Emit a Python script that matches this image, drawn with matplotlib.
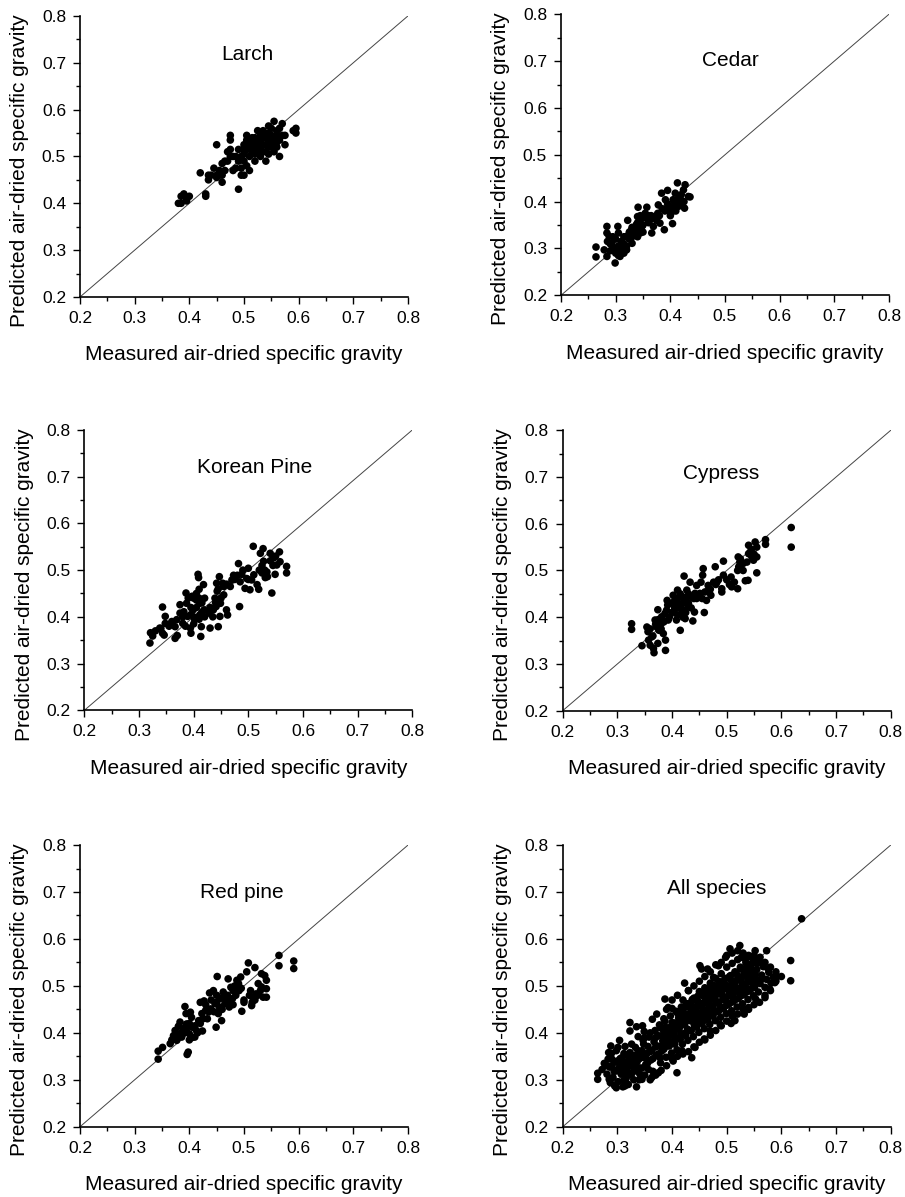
import numpy as np
import matplotlib
matplotlib.use('Agg')
import matplotlib.pyplot as plt
from matplotlib.ticker import MultipleLocator

plt.rcParams['font.family'] = ['Liberation Sans', 'DejaVu Sans']

# measured vs predicted air-dried specific gravity
larch = [
    (0.38, 0.40), (0.385, 0.40), (0.39, 0.42), (0.395, 0.41), (0.40, 0.415), (0.385, 0.415), (0.395, 0.405),
    (0.43, 0.415), (0.43, 0.42), (0.42, 0.465), (0.435, 0.45), (0.435, 0.46), (0.445, 0.475), (0.45, 0.525),
    (0.45, 0.46), (0.455, 0.47), (0.46, 0.445), (0.46, 0.46), (0.46, 0.485), (0.465, 0.49), (0.47, 0.51),
    (0.475, 0.515), (0.475, 0.545), (0.475, 0.535), (0.48, 0.50), (0.48, 0.47), (0.485, 0.475), (0.49, 0.43),
    (0.49, 0.49), (0.49, 0.515), (0.495, 0.46), (0.495, 0.475), (0.50, 0.46), (0.50, 0.49), (0.50, 0.505),
    (0.50, 0.525), (0.505, 0.545), (0.505, 0.535), (0.51, 0.50), (0.51, 0.52), (0.51, 0.47), (0.515, 0.51),
    (0.515, 0.53), (0.52, 0.54), (0.52, 0.515), (0.52, 0.49), (0.525, 0.555), (0.525, 0.525), (0.53, 0.50),
    (0.53, 0.52), (0.53, 0.535), (0.535, 0.545), (0.535, 0.51), (0.54, 0.525), (0.54, 0.49), (0.545, 0.535),
    (0.545, 0.565), (0.55, 0.52), (0.55, 0.545), (0.555, 0.575), (0.555, 0.51), (0.56, 0.555), (0.56, 0.53),
    (0.565, 0.56), (0.565, 0.50), (0.57, 0.57), (0.57, 0.545), (0.575, 0.525), (0.575, 0.545), (0.59, 0.555),
    (0.595, 0.55), (0.595, 0.56), (0.505, 0.515), (0.51, 0.53), (0.515, 0.52), (0.52, 0.505), (0.525, 0.53),
    (0.525, 0.51), (0.53, 0.545), (0.535, 0.525), (0.54, 0.54), (0.545, 0.52), (0.55, 0.53), (0.555, 0.54),
    (0.56, 0.545), (0.545, 0.55), (0.535, 0.555), (0.52, 0.53), (0.515, 0.54), (0.50, 0.515), (0.495, 0.50),
    (0.485, 0.50), (0.475, 0.50), (0.47, 0.49), (0.465, 0.47), (0.455, 0.46), (0.45, 0.455), (0.44, 0.46),
    (0.505, 0.48), (0.52, 0.52), (0.53, 0.53), (0.54, 0.51), (0.55, 0.56), (0.545, 0.505), (0.56, 0.52),
    (0.565, 0.535),
]

cedar = [
    (0.264, 0.303), (0.264, 0.282), (0.284, 0.347), (0.284, 0.333), (0.279, 0.297), (0.284, 0.283),
    (0.288, 0.326), (0.293, 0.311), (0.299, 0.269), (0.304, 0.347), (0.305, 0.333), (0.308, 0.283),
    (0.311, 0.311), (0.314, 0.297), (0.320, 0.326), (0.322, 0.360), (0.320, 0.297), (0.329, 0.340),
    (0.330, 0.311), (0.338, 0.351), (0.340, 0.368), (0.341, 0.388), (0.345, 0.333), (0.348, 0.347),
    (0.354, 0.375), (0.357, 0.388), (0.363, 0.361), (0.366, 0.333), (0.369, 0.347), (0.372, 0.368),
    (0.377, 0.375), (0.378, 0.393), (0.381, 0.354), (0.384, 0.418), (0.389, 0.340), (0.391, 0.404),
    (0.395, 0.424), (0.396, 0.390), (0.401, 0.375), (0.404, 0.353), (0.405, 0.404), (0.409, 0.418),
    (0.413, 0.440), (0.415, 0.390), (0.418, 0.411), (0.421, 0.400), (0.424, 0.425), (0.426, 0.386),
    (0.427, 0.436), (0.433, 0.411), (0.436, 0.410),
    (0.29, 0.31), (0.295, 0.30), (0.30, 0.32), (0.30, 0.29), (0.305, 0.305), (0.31, 0.295), (0.31, 0.315),
    (0.315, 0.31), (0.315, 0.29), (0.32, 0.305), (0.325, 0.32), (0.325, 0.335), (0.33, 0.325), (0.335, 0.34),
    (0.335, 0.33), (0.34, 0.355), (0.345, 0.345), (0.345, 0.36), (0.35, 0.35), (0.355, 0.365), (0.36, 0.37),
    (0.36, 0.355), (0.365, 0.37), (0.37, 0.365), (0.375, 0.36), (0.38, 0.37), (0.385, 0.385), (0.39, 0.38),
    (0.395, 0.395), (0.40, 0.385), (0.405, 0.39), (0.41, 0.40), (0.415, 0.405), (0.42, 0.395), (0.42, 0.415),
    (0.425, 0.40), (0.41, 0.38), (0.40, 0.37), (0.30, 0.30), (0.29, 0.295), (0.285, 0.315), (0.295, 0.325),
    (0.305, 0.285), (0.315, 0.325), (0.33, 0.345), (0.34, 0.325), (0.35, 0.335), (0.345, 0.37),
]

korean_pine = [
    (0.320, 0.344), (0.321, 0.366), (0.325, 0.359), (0.343, 0.421), (0.338, 0.376), (0.343, 0.365),
    (0.348, 0.386), (0.348, 0.401), (0.346, 0.361), (0.366, 0.379), (0.366, 0.354), (0.369, 0.394),
    (0.375, 0.426), (0.375, 0.408), (0.380, 0.386), (0.382, 0.411), (0.386, 0.451), (0.387, 0.429),
    (0.389, 0.401), (0.394, 0.376), (0.395, 0.365), (0.397, 0.444), (0.399, 0.415), (0.402, 0.394),
    (0.405, 0.436), (0.408, 0.491), (0.409, 0.484), (0.410, 0.459), (0.411, 0.429), (0.411, 0.404),
    (0.413, 0.358), (0.414, 0.379), (0.418, 0.469), (0.419, 0.415), (0.428, 0.408), (0.430, 0.376),
    (0.436, 0.415), (0.439, 0.440), (0.441, 0.422), (0.442, 0.472), (0.443, 0.455), (0.445, 0.379),
    (0.447, 0.486), (0.448, 0.401), (0.449, 0.429), (0.453, 0.472), (0.455, 0.447), (0.460, 0.415),
    (0.462, 0.404), (0.467, 0.465), (0.470, 0.479), (0.473, 0.489), (0.480, 0.489), (0.482, 0.514),
    (0.484, 0.422), (0.488, 0.491), (0.494, 0.461), (0.497, 0.482), (0.500, 0.504), (0.503, 0.458),
    (0.506, 0.479), (0.509, 0.551), (0.516, 0.469), (0.519, 0.459), (0.522, 0.536), (0.525, 0.494),
    (0.527, 0.546), (0.528, 0.519), (0.531, 0.484), (0.534, 0.496), (0.535, 0.486), (0.540, 0.536),
    (0.543, 0.451), (0.546, 0.526), (0.549, 0.491), (0.552, 0.511), (0.557, 0.539), (0.558, 0.518),
    (0.570, 0.508), (0.570, 0.494),
    (0.395, 0.42), (0.40, 0.44), (0.40, 0.40), (0.405, 0.42), (0.41, 0.44), (0.415, 0.43), (0.415, 0.41),
    (0.42, 0.44), (0.405, 0.45), (0.395, 0.405), (0.40, 0.385), (0.41, 0.395), (0.42, 0.40), (0.43, 0.42),
    (0.435, 0.40), (0.44, 0.43), (0.445, 0.46), (0.45, 0.44), (0.455, 0.465), (0.46, 0.47), (0.475, 0.48),
    (0.485, 0.475), (0.49, 0.50), (0.50, 0.48), (0.51, 0.49), (0.52, 0.50), (0.525, 0.51), (0.53, 0.50),
    (0.54, 0.52), (0.545, 0.51), (0.55, 0.53), (0.37, 0.36), (0.385, 0.38), (0.38, 0.40), (0.39, 0.44),
    (0.33, 0.37), (0.34, 0.375), (0.355, 0.38), (0.36, 0.39),
]

cypress = [
    (0.326, 0.386), (0.326, 0.374), (0.345, 0.339), (0.354, 0.379), (0.356, 0.369), (0.357, 0.351),
    (0.360, 0.340), (0.363, 0.358), (0.366, 0.333), (0.367, 0.324), (0.369, 0.394), (0.372, 0.379),
    (0.374, 0.344), (0.374, 0.416), (0.376, 0.372), (0.380, 0.386), (0.381, 0.401), (0.384, 0.365),
    (0.387, 0.408), (0.388, 0.329), (0.388, 0.351), (0.391, 0.436), (0.392, 0.426), (0.393, 0.394),
    (0.402, 0.447), (0.404, 0.415), (0.405, 0.436), (0.408, 0.394), (0.410, 0.458), (0.413, 0.429),
    (0.415, 0.372), (0.418, 0.408), (0.420, 0.443), (0.422, 0.488), (0.424, 0.397), (0.427, 0.458),
    (0.430, 0.422), (0.433, 0.475), (0.436, 0.443), (0.438, 0.392), (0.441, 0.411), (0.442, 0.451),
    (0.445, 0.468), (0.451, 0.451), (0.453, 0.475), (0.456, 0.490), (0.457, 0.504), (0.459, 0.410),
    (0.460, 0.454), (0.463, 0.436), (0.466, 0.468), (0.471, 0.447), (0.476, 0.475), (0.479, 0.508),
    (0.482, 0.475), (0.491, 0.454), (0.491, 0.461), (0.494, 0.490), (0.494, 0.520), (0.508, 0.486),
    (0.509, 0.465), (0.514, 0.475), (0.520, 0.461), (0.521, 0.529), (0.522, 0.508), (0.524, 0.518),
    (0.530, 0.500), (0.534, 0.478), (0.537, 0.518), (0.539, 0.479), (0.540, 0.554), (0.540, 0.536),
    (0.543, 0.539), (0.546, 0.529), (0.549, 0.522), (0.552, 0.561), (0.555, 0.550), (0.555, 0.529),
    (0.555, 0.495), (0.571, 0.566), (0.571, 0.556), (0.618, 0.592), (0.618, 0.550),
    (0.405, 0.42), (0.41, 0.44), (0.41, 0.43), (0.415, 0.42), (0.415, 0.45), (0.42, 0.43), (0.42, 0.415),
    (0.425, 0.44), (0.43, 0.43), (0.43, 0.45), (0.435, 0.42), (0.44, 0.44), (0.445, 0.44), (0.41, 0.405),
    (0.42, 0.40), (0.425, 0.41), (0.40, 0.43), (0.40, 0.41), (0.395, 0.40), (0.385, 0.39), (0.38, 0.375),
    (0.37, 0.385), (0.365, 0.36), (0.36, 0.375), (0.375, 0.395), (0.39, 0.415), (0.45, 0.445), (0.455, 0.44),
    (0.465, 0.455), (0.47, 0.46), (0.48, 0.47), (0.485, 0.48), (0.52, 0.50), (0.525, 0.525), (0.53, 0.515),
    (0.545, 0.545), (0.55, 0.535), (0.50, 0.48), (0.505, 0.47),
]

red_pine = [
    (0.343, 0.361), (0.343, 0.344), (0.351, 0.369), (0.365, 0.377), (0.368, 0.385), (0.371, 0.394),
    (0.374, 0.405), (0.377, 0.384), (0.380, 0.414), (0.383, 0.423), (0.386, 0.391), (0.389, 0.409),
    (0.392, 0.456), (0.394, 0.441), (0.395, 0.419), (0.396, 0.354), (0.398, 0.359), (0.400, 0.398),
    (0.402, 0.444), (0.404, 0.433), (0.406, 0.412), (0.410, 0.391), (0.413, 0.405), (0.417, 0.426),
    (0.420, 0.465), (0.423, 0.441), (0.424, 0.404), (0.427, 0.468), (0.430, 0.448), (0.433, 0.430),
    (0.437, 0.485), (0.439, 0.451), (0.444, 0.490), (0.447, 0.462), (0.449, 0.412), (0.451, 0.520),
    (0.453, 0.441), (0.456, 0.473), (0.459, 0.426), (0.462, 0.487), (0.465, 0.462), (0.468, 0.476),
    (0.471, 0.515), (0.473, 0.455), (0.476, 0.497), (0.479, 0.473), (0.483, 0.500), (0.487, 0.512),
    (0.491, 0.490), (0.494, 0.519), (0.496, 0.446), (0.500, 0.465), (0.505, 0.530), (0.508, 0.549),
    (0.512, 0.490), (0.514, 0.458), (0.517, 0.473), (0.520, 0.539), (0.522, 0.483), (0.526, 0.505),
    (0.532, 0.526), (0.532, 0.498), (0.535, 0.476), (0.538, 0.522), (0.541, 0.512), (0.541, 0.494),
    (0.541, 0.476), (0.564, 0.565), (0.564, 0.543), (0.591, 0.553), (0.591, 0.537),
    (0.39, 0.40), (0.395, 0.41), (0.40, 0.42), (0.405, 0.39), (0.41, 0.415), (0.415, 0.40), (0.42, 0.42),
    (0.425, 0.43), (0.43, 0.46), (0.435, 0.445), (0.44, 0.47), (0.445, 0.445), (0.45, 0.465), (0.455, 0.455),
    (0.46, 0.475), (0.465, 0.475), (0.47, 0.48), (0.475, 0.47), (0.48, 0.49), (0.485, 0.48), (0.49, 0.505),
    (0.495, 0.495), (0.46, 0.45), (0.45, 0.48), (0.47, 0.465), (0.48, 0.46), (0.515, 0.465), (0.52, 0.47),
    (0.51, 0.48), (0.50, 0.47), (0.53, 0.49), (0.525, 0.48), (0.38, 0.395), (0.385, 0.40), (0.40, 0.385),
]

all_species = [
    # edge of the cloud
    (0.264, 0.314), (0.264, 0.301), (0.280, 0.330), (0.284, 0.358), (0.285, 0.301), (0.287, 0.294),
    (0.288, 0.372), (0.290, 0.344), (0.295, 0.287), (0.298, 0.283), (0.298, 0.319), (0.301, 0.369),
    (0.304, 0.384), (0.308, 0.347), (0.311, 0.298), (0.314, 0.287), (0.315, 0.333), (0.320, 0.315),
    (0.323, 0.422), (0.323, 0.404), (0.326, 0.376), (0.332, 0.326), (0.335, 0.285), (0.335, 0.413),
    (0.338, 0.362), (0.341, 0.312), (0.345, 0.301), (0.346, 0.415), (0.348, 0.376), (0.351, 0.347),
    (0.357, 0.322), (0.363, 0.305), (0.364, 0.429), (0.372, 0.440), (0.375, 0.315), (0.378, 0.347),
    (0.387, 0.472), (0.393, 0.454), (0.402, 0.340), (0.409, 0.315), (0.418, 0.362), (0.423, 0.506),
    (0.430, 0.490), (0.436, 0.347), (0.442, 0.369), (0.451, 0.543), (0.454, 0.536), (0.459, 0.387),
    (0.465, 0.536), (0.470, 0.404), (0.476, 0.518), (0.485, 0.543), (0.488, 0.418), (0.498, 0.561),
    (0.506, 0.579), (0.508, 0.420), (0.515, 0.426), (0.524, 0.586), (0.527, 0.561), (0.532, 0.440),
    (0.540, 0.454), (0.552, 0.575), (0.553, 0.472), (0.561, 0.561), (0.570, 0.475), (0.573, 0.575),
    (0.576, 0.536), (0.579, 0.493), (0.588, 0.507), (0.591, 0.521), (0.617, 0.554), (0.617, 0.511),
    (0.637, 0.643),
    (0.30, 0.34), (0.31, 0.32), (0.32, 0.35), (0.33, 0.33), (0.34, 0.36), (0.35, 0.39), (0.36, 0.40),
    (0.37, 0.39), (0.38, 0.41), (0.385, 0.43), (0.39, 0.45), (0.40, 0.47), (0.41, 0.48), (0.42, 0.47),
    (0.43, 0.49), (0.44, 0.50), (0.45, 0.51), (0.46, 0.52), (0.47, 0.53), (0.48, 0.545), (0.49, 0.55),
    (0.50, 0.565), (0.51, 0.57), (0.52, 0.575), (0.53, 0.57), (0.54, 0.565), (0.55, 0.565), (0.56, 0.55),
    (0.57, 0.55), (0.58, 0.54), (0.59, 0.53), (0.60, 0.52), (0.59, 0.51), (0.58, 0.49), (0.57, 0.48),
    (0.56, 0.465), (0.55, 0.46), (0.54, 0.45), (0.53, 0.45), (0.52, 0.44), (0.51, 0.435), (0.50, 0.425),
    (0.49, 0.415), (0.48, 0.405), (0.47, 0.395), (0.46, 0.385), (0.45, 0.38), (0.44, 0.37), (0.43, 0.36),
    (0.42, 0.355), (0.41, 0.35), (0.40, 0.345), (0.39, 0.33), (0.38, 0.32), (0.37, 0.31), (0.36, 0.30),
    (0.35, 0.31), (0.34, 0.30), (0.33, 0.30), (0.32, 0.29), (0.31, 0.285),
    # body of the cloud
    (0.272, 0.322), (0.276, 0.335), (0.281, 0.312), (0.283, 0.344), (0.286, 0.327), (0.289, 0.356),
    (0.292, 0.305), (0.294, 0.318), (0.296, 0.338), (0.298, 0.362), (0.301, 0.296), (0.303, 0.326),
    (0.305, 0.345), (0.307, 0.312), (0.309, 0.334), (0.312, 0.356), (0.314, 0.371), (0.316, 0.303),
    (0.318, 0.325), (0.321, 0.342), (0.323, 0.358), (0.326, 0.331), (0.328, 0.316), (0.331, 0.352),
    (0.333, 0.369), (0.336, 0.338), (0.338, 0.392), (0.341, 0.325), (0.343, 0.347), (0.345, 0.362),
    (0.347, 0.384), (0.349, 0.403), (0.352, 0.333), (0.354, 0.356), (0.356, 0.371), (0.358, 0.391),
    (0.361, 0.342), (0.363, 0.362), (0.365, 0.318), (0.367, 0.381), (0.369, 0.405), (0.371, 0.352),
    (0.373, 0.372), (0.375, 0.394), (0.377, 0.417), (0.379, 0.336), (0.381, 0.361), (0.383, 0.383),
    (0.385, 0.401), (0.387, 0.425), (0.389, 0.348), (0.391, 0.372), (0.393, 0.392), (0.395, 0.411),
    (0.397, 0.436), (0.399, 0.357), (0.401, 0.381), (0.403, 0.402), (0.405, 0.421), (0.407, 0.446),
    (0.409, 0.364), (0.411, 0.389), (0.413, 0.409), (0.415, 0.431), (0.417, 0.455), (0.419, 0.376),
    (0.421, 0.398), (0.423, 0.418), (0.425, 0.439), (0.427, 0.462), (0.429, 0.384), (0.431, 0.405),
    (0.433, 0.426), (0.435, 0.447), (0.437, 0.471), (0.439, 0.392), (0.441, 0.414), (0.443, 0.434),
    (0.445, 0.455), (0.447, 0.478), (0.449, 0.401), (0.451, 0.421), (0.453, 0.442), (0.455, 0.463),
    (0.457, 0.486), (0.459, 0.409), (0.461, 0.428), (0.463, 0.449), (0.465, 0.471), (0.467, 0.494),
    (0.469, 0.418), (0.471, 0.437), (0.473, 0.457), (0.475, 0.478), (0.477, 0.501), (0.479, 0.426),
    (0.481, 0.445), (0.483, 0.465), (0.485, 0.486), (0.487, 0.509), (0.489, 0.433), (0.491, 0.452),
    (0.493, 0.472), (0.495, 0.493), (0.497, 0.516), (0.499, 0.441), (0.501, 0.459), (0.503, 0.479),
    (0.505, 0.499), (0.507, 0.522), (0.509, 0.447), (0.511, 0.466), (0.513, 0.486), (0.515, 0.506),
    (0.517, 0.529), (0.519, 0.455), (0.521, 0.473), (0.523, 0.493), (0.525, 0.513), (0.527, 0.536),
    (0.529, 0.462), (0.531, 0.481), (0.533, 0.501), (0.535, 0.521), (0.537, 0.543), (0.539, 0.471),
    (0.541, 0.489), (0.543, 0.509), (0.545, 0.528), (0.547, 0.549), (0.549, 0.479), (0.551, 0.497),
    (0.553, 0.516), (0.555, 0.535), (0.558, 0.487), (0.561, 0.505), (0.564, 0.523), (0.567, 0.541),
    (0.570, 0.497), (0.573, 0.514), (0.577, 0.529), (0.581, 0.506), (0.585, 0.519),
    # dense core
    (0.380, 0.372), (0.384, 0.392), (0.388, 0.412), (0.392, 0.382), (0.396, 0.402), (0.400, 0.422),
    (0.404, 0.392), (0.408, 0.412), (0.412, 0.432), (0.416, 0.398), (0.420, 0.418), (0.424, 0.440),
    (0.428, 0.408), (0.432, 0.428), (0.436, 0.458), (0.440, 0.420), (0.444, 0.444), (0.448, 0.466),
    (0.452, 0.430), (0.456, 0.452), (0.460, 0.476), (0.464, 0.438), (0.468, 0.460), (0.472, 0.484),
    (0.476, 0.446), (0.480, 0.468), (0.484, 0.494), (0.488, 0.456), (0.492, 0.480), (0.496, 0.504),
    (0.500, 0.466), (0.504, 0.490), (0.508, 0.512), (0.512, 0.476), (0.516, 0.498), (0.520, 0.522),
    (0.524, 0.484), (0.528, 0.506), (0.532, 0.530), (0.536, 0.494), (0.540, 0.516), (0.544, 0.538),
    (0.548, 0.504), (0.552, 0.526), (0.556, 0.548), (0.400, 0.452), (0.410, 0.442), (0.420, 0.452),
    (0.430, 0.462), (0.440, 0.474), (0.450, 0.488), (0.460, 0.496), (0.470, 0.506), (0.480, 0.516),
    (0.490, 0.526), (0.500, 0.540), (0.510, 0.548), (0.520, 0.556), (0.530, 0.560), (0.540, 0.562),
    (0.550, 0.556), (0.395, 0.372), (0.405, 0.376), (0.415, 0.386), (0.425, 0.394), (0.435, 0.404),
    (0.445, 0.412), (0.455, 0.420), (0.465, 0.428), (0.475, 0.436), (0.485, 0.446), (0.495, 0.454),
    (0.505, 0.462), (0.515, 0.470), (0.525, 0.478), (0.535, 0.486), (0.545, 0.494),
    (0.39, 0.39), (0.40, 0.41), (0.41, 0.42), (0.42, 0.43), (0.43, 0.44), (0.44, 0.45), (0.45, 0.46),
    (0.46, 0.465), (0.47, 0.47), (0.48, 0.48), (0.49, 0.49), (0.50, 0.50), (0.51, 0.51), (0.52, 0.515),
    (0.53, 0.52), (0.54, 0.53), (0.55, 0.52), (0.415, 0.445), (0.425, 0.455), (0.435, 0.465), (0.445, 0.47),
    (0.455, 0.48), (0.465, 0.485), (0.475, 0.49), (0.485, 0.50), (0.495, 0.51), (0.505, 0.52), (0.515, 0.53),
    (0.525, 0.54), (0.535, 0.55), (0.545, 0.545), (0.405, 0.405), (0.415, 0.415), (0.425, 0.425),
    (0.435, 0.435), (0.445, 0.43), (0.455, 0.435), (0.465, 0.445), (0.475, 0.455), (0.485, 0.465),
    (0.495, 0.47), (0.505, 0.48), (0.515, 0.49), (0.525, 0.495), (0.535, 0.505), (0.545, 0.515),
    (0.555, 0.51), (0.565, 0.515), (0.37, 0.37), (0.36, 0.36), (0.35, 0.35), (0.34, 0.345), (0.33, 0.34),
    (0.32, 0.335), (0.31, 0.34), (0.30, 0.32), (0.29, 0.33), (0.355, 0.335), (0.365, 0.345), (0.375, 0.355),
    (0.385, 0.365), (0.345, 0.325), (0.335, 0.32), (0.325, 0.31), (0.315, 0.31),
]

species_names = ['Larch', 'Cedar', 'Korean Pine', 'Cypress', 'Red pine', 'All species']
species_data = [larch, cedar, korean_pine, cypress, red_pine, all_species]

# layout (figure fractions) and title spots (data coords)
axes_rects = [
    [0.0884, 0.7519, 0.3624, 0.2348],
    [0.6199, 0.7533, 0.3624, 0.2348],
    [0.0932, 0.4066, 0.3624, 0.2342],
    [0.6218, 0.4063, 0.3624, 0.2342],
    [0.0884, 0.0587, 0.3624, 0.2353],
    [0.6218, 0.0587, 0.3624, 0.2353],
]
title_spots = [(0.507, 0.717), (0.509, 0.702), (0.512, 0.720),
               (0.489, 0.708), (0.496, 0.700), (0.482, 0.708)]


def style_axis(ax):
    '''Origin-like axes: left and bottom spines, outward ticks'''
    ax.set_xlim(0.2, 0.8)
    ax.set_ylim(0.2, 0.8)
    for side in ['top', 'right']:
        ax.spines[side].set_visible(False)
    for side in ['left', 'bottom']:
        ax.spines[side].set_linewidth(1.2)
    ax.xaxis.set_major_locator(MultipleLocator(0.1))
    ax.xaxis.set_minor_locator(MultipleLocator(0.05))
    ax.yaxis.set_major_locator(MultipleLocator(0.1))
    ax.yaxis.set_minor_locator(MultipleLocator(0.05))
    ax.tick_params(which='major', direction='out', length=5, width=1.0,
                   labelsize=12.5, pad=5)
    ax.tick_params(which='minor', direction='out', length=3, width=1.0)
    ax.set_xticklabels([f'{v:.1f}' for v in ax.get_xticks()])
    ax.set_yticklabels([f'{v:.1f}' for v in ax.get_yticks()])
    ax.set_xlabel('Measured air-dried specific gravity', fontsize=15, labelpad=14)
    ax.set_ylabel('Predicted air-dried specific gravity', fontsize=15)
    ax.yaxis.set_label_coords(-0.155, 0.45)


fig = plt.figure(figsize=(9.05, 11.97), dpi=100)

for name, data, rect, spot in zip(species_names, species_data, axes_rects, title_spots):
    ax = fig.add_axes(rect)
    pts = np.array(data)
    ax.plot([0.2, 0.8], [0.2, 0.8], color='#444444', lw=0.7, zorder=1)
    ax.scatter(pts[:, 0], pts[:, 1], s=30, color='black', edgecolors='none',
               zorder=2, clip_on=False)
    style_axis(ax)
    ax.text(spot[0], spot[1], name, fontsize=15, ha='center', va='center')

fig.savefig('out.png', dpi=100)
